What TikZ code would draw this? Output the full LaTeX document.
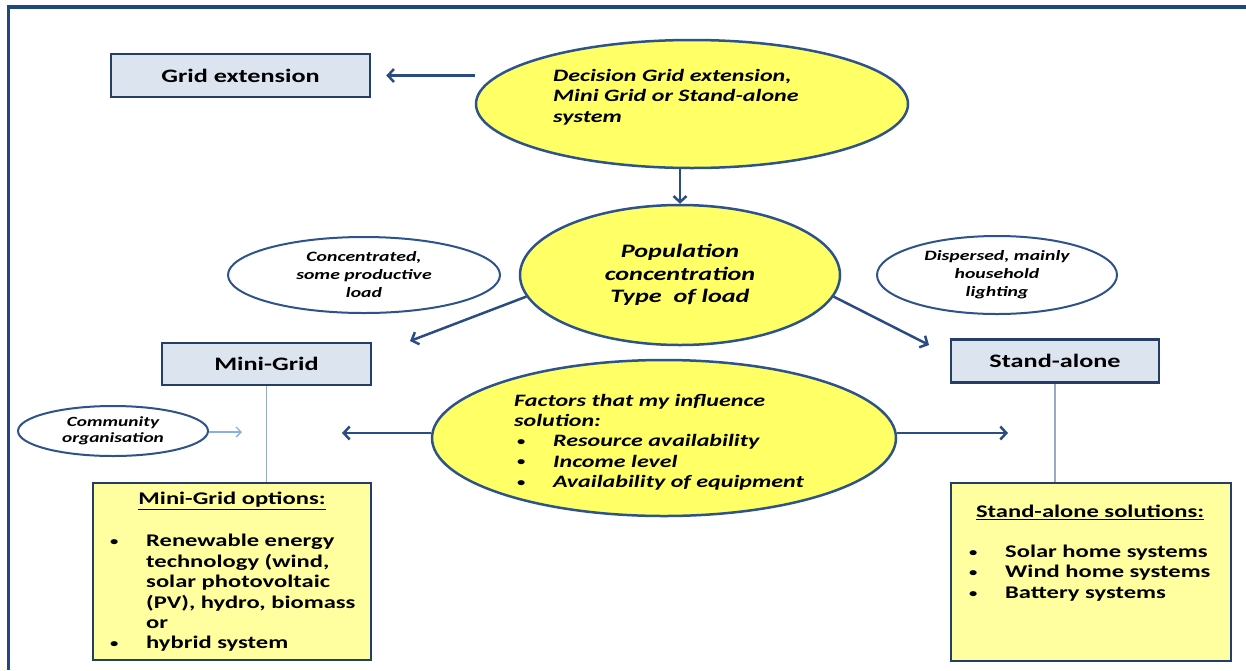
\documentclass[tikz,border=0pt]{standalone}
\usepackage{fontspec}
\setmainfont{Carlito}[FakeStretch=1.38]
\usetikzlibrary{arrows.meta,shapes.geometric}

\definecolor{frameblue}{RGB}{31,73,125}
\definecolor{edgeblue}{RGB}{36,62,105}
\definecolor{ellblue}{RGB}{46,82,138}
\definecolor{arrowblue}{RGB}{42,76,130}
\definecolor{boxfill}{RGB}{220,228,240}
\definecolor{ellfill}{RGB}{255,255,102}
\definecolor{notefill}{RGB}{255,255,160}
\definecolor{stemgrey}{RGB}{150,170,196}
\definecolor{lightarrow}{RGB}{140,175,220}

\tikzset{
  labelbox/.style={rectangle, draw=edgeblue, line width=2.5pt, fill=boxfill, inner sep=0pt,
    font=\fontsize{19}{23}\selectfont\bfseries},
  optbox/.style={rectangle, draw=edgeblue, line width=2.5pt, fill=notefill, inner sep=0pt},
  bigell/.style={ellipse, draw=ellblue, line width=2.5pt, fill=ellfill, inner sep=0pt},
  noteell/.style={ellipse, draw=ellblue, line width=2pt, fill=white, inner sep=0pt, align=center,
    font=\fontsize{14.3}{18}\selectfont\bfseries\itshape},
  bigtext/.style={inner sep=0pt, align=left, font=\fontsize{17.4}{20.3}\selectfont\bfseries\itshape},
  listtext/.style={inner sep=0pt, align=left, font=\fontsize{17.8}{20.4}\selectfont\bfseries},
  arr/.style={draw=arrowblue, line width=2.5pt, -{Straight Barb[length=6pt,width=13pt]}},
  thinarr/.style={draw=lightarrow, line width=1.3pt, -{Straight Barb[length=5pt,width=10pt]}},
  stem/.style={draw=stemgrey, line width=1.5pt}
}

% small round bullet followed by a fixed indent
\newcommand{\blt}{\makebox[36pt][l]{\raisebox{1.2pt}{\fontsize{12}{12}\selectfont\upshape\textbullet}}}

\begin{document}
\begin{tikzpicture}[x=1pt,y=-1pt]
\useasboundingbox (0,0) rectangle (1246,670);

% outer frame (top and left edges)
\draw[frameblue, line width=3.5pt] (8.5,670) -- (8.5,7) -- (1246,7);

% top decision
\node[labelbox, minimum width=259pt, minimum height=43pt] (gridext) at (240.5,75.5) {Grid extension};
\node[bigell, minimum width=432pt, minimum height=128pt] (decision) at (692,104) {};
\node[bigtext, anchor=west] (decisiontext) at (553,97)
  {Decision Grid extension,\\Mini Grid or Stand-alone\\system};

% population / load
\node[bigell, minimum width=320pt, minimum height=140pt, align=center,
  font=\fontsize{19}{22.6}\selectfont\bfseries\itshape] (pop) at (680,275)
  {Population\\concentration\\Type~~of load};
\node[noteell, minimum width=272pt, minimum height=76pt] (conc) at (364,275)
  {Concentrated,\\some productive\\load};
\node[noteell, minimum width=240pt, minimum height=78pt] (disp) at (997,275)
  {Dispersed, mainly\\household\\lighting};

% branches
\node[labelbox, minimum width=209pt, minimum height=42pt] (minigrid) at (266.5,364) {Mini-Grid};
\node[labelbox, minimum width=208pt, minimum height=43pt] (standalone) at (1055,361) {Stand-alone};

\node[noteell, minimum width=190pt, minimum height=50pt,
  font=\fontsize{14}{16.5}\selectfont\bfseries\itshape] (community) at (113,431)
  {Community\\organisation};

% influencing factors
\node[bigell, minimum width=464pt, minimum height=156pt] (factors) at (664,438) {};
\node[bigtext, anchor=west] (factorstext) at (514,442)
  {Factors that my influence\\solution:\\
   \hspace*{3pt}\blt Resource availability\\
   \hspace*{3pt}\blt Income level\\
   \hspace*{3pt}\blt Availability of equipment};

% option boxes
\node[optbox, minimum width=278pt, minimum height=177pt] (mgopts) at (232,571.5) {};
\node[listtext] (mgtitle) at (232,501) {\underline{Mini-Grid options:}};
\node[listtext, anchor=west] (mglist) at (110,593)
  {\blt Renewable energy\\
   \hspace*{36pt}technology (wind,\\
   \hspace*{36pt}solar photovoltaic\\
   \hspace*{36pt}(PV), hydro, biomass\\
   \hspace*{36pt}or\\
   \blt hybrid system};

\node[optbox, minimum width=280pt, minimum height=178pt] (saopts) at (1091,572) {};
\node[listtext] (satitle) at (1090,512) {\underline{Stand-alone solutions:}};
\node[listtext, anchor=west] (salist) at (969,573)
  {\blt Solar home systems\\
   \blt Wind home systems\\
   \blt Battery systems};

% connectors
\coordinate (mgtip) at (410,341);
\coordinate (satip) at (929,345);
\coordinate (fleft) at (342,433);
\coordinate (fright) at (1008,433);
\coordinate (ctip) at (242,432);

\draw[arr] (decision.west |- gridext.east) -- ([xshift=15pt]gridext.east);
\draw[arr] (decision.south -| pop.north) -- (pop.north);
\draw[arr] (pop.188) -- (mgtip);
\draw[arr] (pop.352) -- (satip);
\draw[arr] (factors.west |- fleft) -- (fleft);
\draw[arr] (factors.east |- fright) -- (fright);
\draw[thinarr] (community.east |- ctip) -- (ctip);

\draw[stem] (minigrid.south) -- (minigrid.south |- mgopts.north);
\draw[stem] (standalone.south) -- (standalone.south |- saopts.north);
\end{tikzpicture}
\end{document}
